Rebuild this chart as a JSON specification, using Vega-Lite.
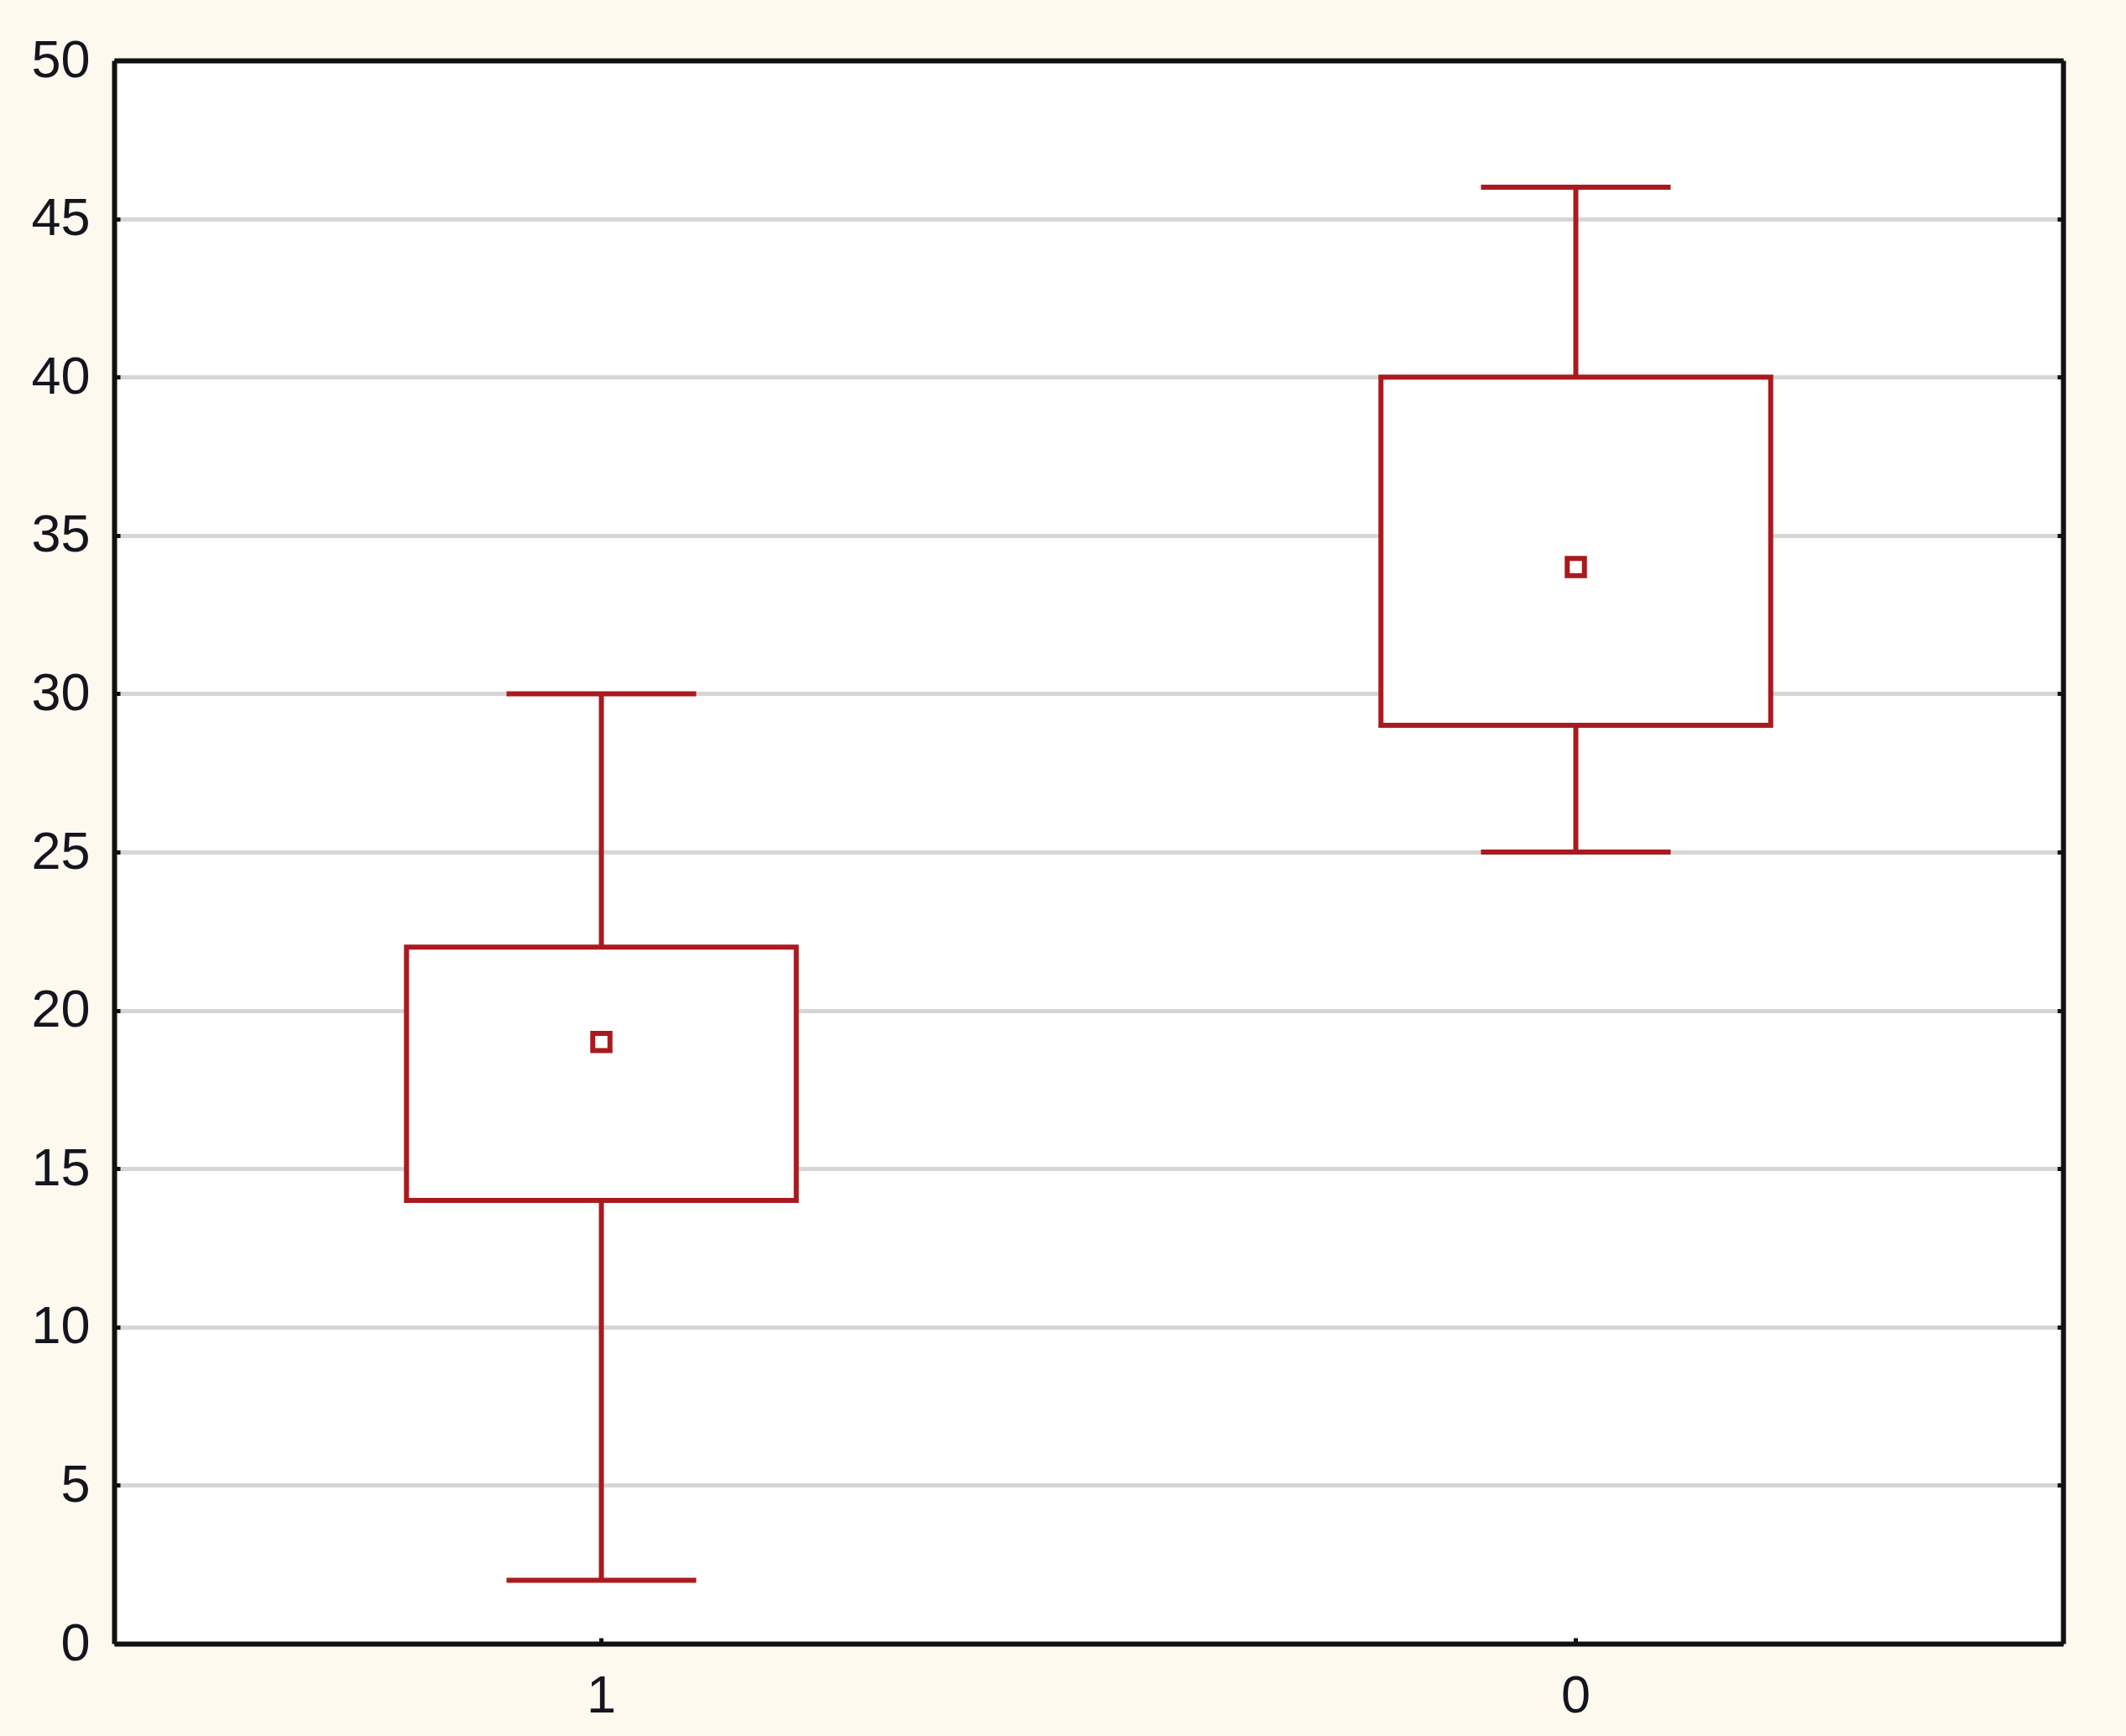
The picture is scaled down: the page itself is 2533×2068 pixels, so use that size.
{
  "$schema": "https://vega.github.io/schema/vega-lite/v6.json",
  "width": 2322,
  "height": 1886,
  "autosize": {"type": "none"},
  "padding": {"left": 136, "top": 72, "right": 75, "bottom": 110},
  "background": "#fef9ef",
  "config": {
    "view": {"stroke": null, "fill": "white"},
    "axis": {
      "labelFont": "Liberation Sans",
      "labelFontSize": 63,
      "labelColor": "#15151f",
      "domain": true,
      "domainColor": "#111111",
      "domainWidth": 6,
      "tickColor": "#111111",
      "tickWidth": 5,
      "tickSize": -7,
      "title": null
    }
  },
  "data": {
    "values": [
      {"group": "1", "low": 2, "q1": 14, "mean": 19, "q3": 22, "high": 30},
      {"group": "0", "low": 25, "q1": 29, "mean": 34, "q3": 40, "high": 46}
    ]
  },
  "layer": [
    {
      "mark": {"type": "rule", "color": "#a91a1f", "strokeWidth": 6},
      "encoding": {
        "x": {
          "field": "group",
          "type": "nominal",
          "sort": ["1", "0"],
          "scale": {"type": "band", "paddingInner": 0, "paddingOuter": 0},
          "axis": {"labelAngle": 0, "labelPadding": 38, "grid": false}
        },
        "y": {
          "field": "low",
          "type": "quantitative",
          "scale": {"domain": [0, 50], "nice": false},
          "axis": {
            "values": [0, 5, 10, 15, 20, 25, 30, 35, 40, 45, 50],
            "grid": true,
            "gridColor": "#d6d6d6",
            "gridWidth": 5,
            "labelPadding": 36
          }
        },
        "y2": {"field": "high"}
      }
    },
    {
      "mark": {"type": "bar", "fill": "white", "stroke": "#a91a1f", "strokeWidth": 6, "width": {"band": 0.4}},
      "encoding": {
        "x": {"field": "group", "type": "nominal", "sort": ["1", "0"], "axis": null},
        "y": {"field": "q1", "type": "quantitative", "axis": null},
        "y2": {"field": "q3"}
      }
    },
    {
      "mark": {"type": "tick", "color": "#a91a1f", "size": 226, "thickness": 6, "opacity": 1},
      "encoding": {
        "x": {"field": "group", "type": "nominal", "sort": ["1", "0"], "axis": null},
        "y": {"field": "low", "type": "quantitative", "axis": null}
      }
    },
    {
      "mark": {"type": "tick", "color": "#a91a1f", "size": 226, "thickness": 6, "opacity": 1},
      "encoding": {
        "x": {"field": "group", "type": "nominal", "sort": ["1", "0"], "axis": null},
        "y": {"field": "high", "type": "quantitative", "axis": null}
      }
    },
    {
      "mark": {"type": "point", "shape": "square", "filled": false, "color": "#a91a1f", "size": 420, "strokeWidth": 6, "opacity": 1},
      "encoding": {
        "x": {
          "field": "group",
          "type": "nominal",
          "sort": ["1", "0"],
          "axis": {"orient": "top", "labels": false, "ticks": false, "grid": false}
        },
        "y": {
          "field": "mean",
          "type": "quantitative",
          "axis": {
            "orient": "right",
            "values": [0, 5, 10, 15, 20, 25, 30, 35, 40, 45, 50],
            "labels": false,
            "grid": false
          }
        }
      }
    }
  ],
  "resolve": {"axis": {"y": "independent", "x": "independent"}}
}
